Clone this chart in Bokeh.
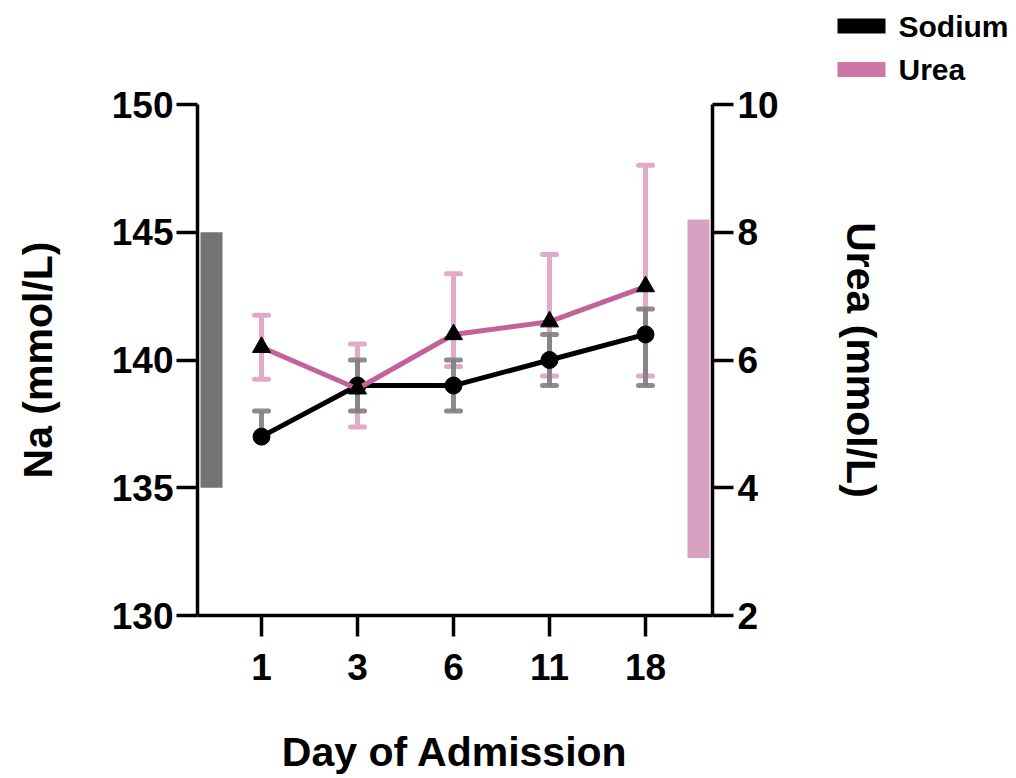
from bokeh.plotting import figure
from bokeh.layouts import column, row
from bokeh.models import Range1d, LinearAxis, FixedTicker
from bokeh.core.properties import value
from bokeh.embed import file_html
from bokeh.resources import INLINE

# ---------------- data ----------------
days = ["1", "3", "6", "11", "18"]
sodium = [137, 139, 139, 140, 141]
sodium_upper = [138, 140, 140, 141, 142]
sodium_lower = [137, 138, 138, 139, 139]
urea = [6.2, 5.55, 6.4, 6.6, 7.15]
urea_upper = [6.7, 6.25, 7.35, 7.65, 9.05]
urea_lower = [5.7, 4.95, 5.9, 5.75, 5.75]
sodium_normal = [135, 145]
urea_normal = [2.9, 8.2]
na_ticks = [130, 135, 140, 145, 150]
urea_ticks = [2, 4, 6, 8, 10]
series_names = ["Sodium", "Urea"]

FONT = "Liberation Sans"
BLACK = "#000000"
GRAY_ERR = "#7f7f7f"
GRAY_BAR = "#737373"
PINK_LINE = "#c4619a"
PINK_ERR = "#e0aac8"
PINK_BAR = "#d9a1c1"
PINK_LEG = "#cc77a8"

W, H = 1016, 778
LEG_H = 85

# ---------------- legend strip (top) ----------------
leg = figure(width=W, height=LEG_H, output_backend="svg", toolbar_location=None,
             x_range=Range1d(0, W), y_range=Range1d(LEG_H, 0), min_border=0,
             min_border_left=0, min_border_right=0, min_border_top=0, min_border_bottom=0)
leg.axis.visible = False
leg.grid.visible = False
leg.outline_line_color = None
leg.background_fill_color = "white"
leg.border_fill_color = "white"
sw_left, sw_w, sw_h = 837, 48, 15
row_centers = [25.5, 69.0]
leg.quad(left=[sw_left] * 2, right=[sw_left + sw_w] * 2,
         top=[c - sw_h / 2 for c in row_centers], bottom=[c + sw_h / 2 for c in row_centers],
         fill_color=[BLACK, PINK_LEG], line_color=None)
leg.text(x=[sw_left + sw_w + 13] * 2, y=row_centers, text=series_names,
         text_font=value(FONT), text_font_style="bold", text_font_size="30px",
         text_baseline="middle", text_align="left", text_color=BLACK)

# ---------------- main chart ----------------
xs = list(range(len(days)))
PX_PER_UNIT = 96.0
x_start = -64 / PX_PER_UNIT
x_end = (len(days) - 1) + 67 / PX_PER_UNIT

p = figure(width=W, height=H - LEG_H, output_backend="svg", toolbar_location=None,
           x_range=Range1d(x_start, x_end), y_range=Range1d(na_ticks[0], na_ticks[-1]),
           min_border_left=197, min_border_right=304, min_border_top=104 - LEG_H,
           min_border_bottom=163)
p.extra_y_ranges = {"urea": Range1d(urea_ticks[0], urea_ticks[-1])}
p.grid.visible = False
p.outline_line_color = None
p.background_fill_color = "white"
p.border_fill_color = "white"


def style_axis(ax):
    ax.axis_line_width = 3.5
    ax.axis_line_color = BLACK
    ax.major_tick_line_width = 3.5
    ax.major_tick_line_color = BLACK
    ax.major_tick_out = 21
    ax.major_tick_in = 0
    ax.minor_tick_line_color = None
    ax.major_label_text_font = FONT
    ax.major_label_text_font_style = "bold"
    ax.major_label_text_font_size = "37px"
    ax.major_label_text_color = BLACK
    ax.axis_label_text_font = FONT
    ax.axis_label_text_font_style = "bold"
    ax.axis_label_text_font_size = "41px"
    ax.axis_label_text_color = BLACK


# x axis
xa = p.xaxis[0]
style_axis(xa)
xa.ticker = FixedTicker(ticks=xs)
xa.major_label_overrides = {i: d for i, d in enumerate(days)}
xa.axis_label = "Day of Admission"
xa.major_label_standoff = 17
xa.axis_label_standoff = 46

# left axis
ya = p.yaxis[0]
style_axis(ya)
ya.ticker = FixedTicker(ticks=na_ticks)
ya.axis_label = "Na (mmol/L)"
ya.major_label_standoff = 3
ya.axis_label_standoff = 48

# right axis
ra = LinearAxis(y_range_name="urea")
style_axis(ra)
ra.ticker = FixedTicker(ticks=urea_ticks)
ra.axis_label = "Urea (mmol/L)"
ra.major_label_standoff = 4
ra.axis_label_standoff = 56
p.add_layout(ra, "right")

# normal-range bars at both sides
bar_w = 22 / PX_PER_UNIT
p.vbar(x=[x_start + (3 + 11) / PX_PER_UNIT], bottom=[sodium_normal[0]], top=[sodium_normal[1]],
       width=bar_w, fill_color=GRAY_BAR, line_color=None)
p.vbar(x=[x_end - (3 + 11) / PX_PER_UNIT], bottom=[urea_normal[0]], top=[urea_normal[1]],
       width=bar_w, fill_color=PINK_BAR, line_color=None, y_range_name="urea")

# error bars: urea (pink) then sodium (gray)
p.segment(x0=xs, y0=urea_lower, x1=xs, y1=urea_upper, line_color=PINK_ERR,
          line_width=5, y_range_name="urea")
ucx = [x for x, lo, v in zip(xs, urea_lower, urea) if lo != v] + xs
ucy = [lo for lo, v in zip(urea_lower, urea) if lo != v] + urea_upper
p.scatter(x=ucx, y=ucy, marker="dash", size=14, line_width=5, line_color=PINK_ERR,
          line_cap="round", y_range_name="urea")

p.segment(x0=xs, y0=sodium_lower, x1=xs, y1=sodium_upper, line_color=GRAY_ERR,
          line_width=5, line_alpha=0.9)
scx = [x for x, lo, v in zip(xs, sodium_lower, sodium) if lo != v] + xs
scy = [lo for lo, v in zip(sodium_lower, sodium) if lo != v] + sodium_upper
p.scatter(x=scx, y=scy, marker="dash", size=14, line_width=5, line_color=GRAY_ERR,
          line_alpha=0.9, line_cap="round")

# sodium line + circles
p.line(xs, sodium, line_color=BLACK, line_width=5)
p.scatter(xs, sodium, marker="circle", size=17, fill_color=BLACK, line_color=BLACK)

# urea line + triangles
p.line(xs, urea, line_color=PINK_LINE, line_width=5, y_range_name="urea")
p.scatter(xs, urea, marker="triangle", size=18, fill_color=BLACK, line_color=BLACK,
          y_range_name="urea")

layout = column(row(leg), p, spacing=0)
open("out.html", "w").write(file_html(layout, INLINE))
